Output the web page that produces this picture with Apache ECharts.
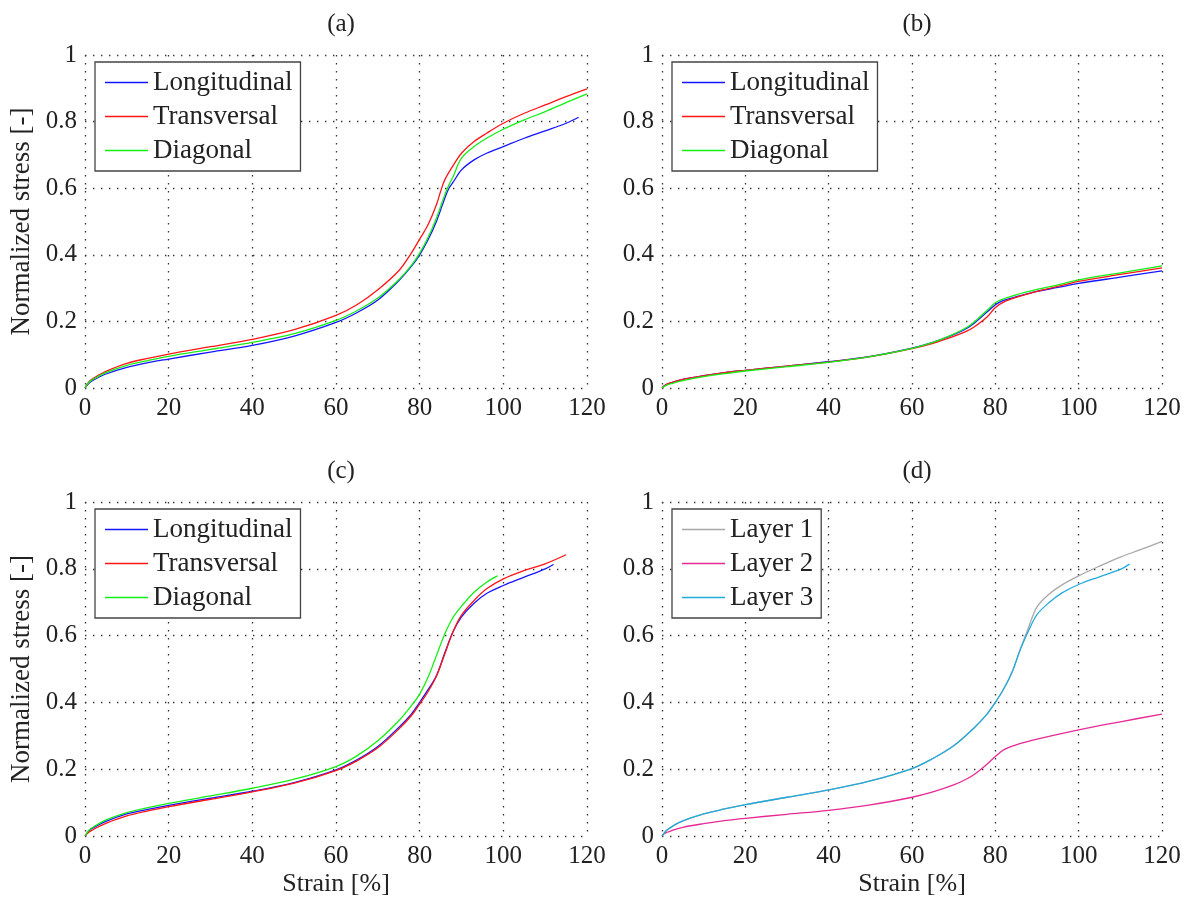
<!DOCTYPE html>
<html>
<head>
<meta charset="utf-8">
<script src="https://cdn.jsdelivr.net/npm/echarts@6/dist/echarts.min.js"></script>
<style>html,body{margin:0;padding:0;background:#fff;}#c{width:1188px;height:902px;}</style>
</head>
<body>
<div id="c"></div>
<script>
// ---- Data (strain [%], normalized stress [-]) ----
var panelTitles = ['(a)', '(b)', '(c)', '(d)'];
var xTicks = [0, 20, 40, 60, 80, 100, 120];
var yTicks = [0, 0.2, 0.4, 0.6, 0.8, 1];

// Panel (a)
var aLongX = [0,1,2.5,5,10,15,20,30,40,50,60,65,70,75,78,80,82,84,86,87,88,90,93,96,100,105,110,115,118];
var aLongY = [0,0.015,0.027,0.042,0.062,0.076,0.087,0.108,0.128,0.156,0.197,0.226,0.264,0.322,0.365,0.400,0.445,0.500,0.570,0.600,0.618,0.655,0.685,0.705,0.725,0.750,0.772,0.795,0.813];
var aTransX = [0,1,2.5,5,10,15,20,30,40,50,60,65,70,75,78,80,82,84,85,86,88,90,93,96,100,105,110,115,120];
var aTransY = [0,0.020,0.033,0.050,0.074,0.089,0.102,0.124,0.146,0.175,0.218,0.250,0.295,0.352,0.405,0.447,0.490,0.550,0.590,0.625,0.668,0.705,0.740,0.765,0.795,0.825,0.850,0.875,0.898];
var aDiagX = [0,1,2.5,5,10,15,20,30,40,50,60,65,70,75,78,80,82,84,86,87,88,90,93,96,100,105,110,115,120];
var aDiagY = [0,0.018,0.030,0.046,0.068,0.082,0.095,0.116,0.137,0.163,0.203,0.232,0.270,0.325,0.368,0.405,0.452,0.510,0.580,0.610,0.635,0.690,0.725,0.750,0.777,0.805,0.830,0.857,0.883];

// Panel (b)
var bLongX = [0,1,2.5,5,10,15,20,30,40,50,60,65,70,73,75,78,80,82,85,90,95,100,110,120];
var bLongY = [0,0.010,0.017,0.026,0.037,0.046,0.053,0.066,0.079,0.095,0.120,0.137,0.160,0.178,0.195,0.228,0.250,0.263,0.274,0.290,0.302,0.314,0.333,0.352];
var bTransX = [0,1,2.5,5,10,15,20,30,40,50,60,65,70,73,75,78,80,82,85,90,95,100,110,120];
var bTransY = [0,0.010,0.017,0.026,0.037,0.046,0.053,0.066,0.078,0.094,0.118,0.134,0.155,0.170,0.184,0.213,0.242,0.258,0.272,0.290,0.305,0.320,0.341,0.361];
var bDiagX = [0,1,2.5,5,10,15,20,30,40,50,60,65,70,73,75,78,80,82,85,90,95,100,110,120];
var bDiagY = [0,0.008,0.014,0.022,0.034,0.043,0.051,0.064,0.077,0.094,0.119,0.137,0.162,0.181,0.199,0.233,0.256,0.268,0.280,0.296,0.310,0.325,0.346,0.367];

// Panel (c)
var cLongX = [0,1,2.5,5,10,15,20,30,40,50,60,65,70,75,78,80,82,84,86,88,90,93,96,100,105,110,112];
var cLongY = [0,0.016,0.028,0.044,0.066,0.080,0.092,0.113,0.134,0.160,0.198,0.228,0.268,0.325,0.365,0.400,0.438,0.480,0.548,0.612,0.656,0.697,0.726,0.750,0.775,0.800,0.813];
var cTransX = [0,1,2.5,5,10,15,20,30,40,50,60,65,70,75,78,80,82,84,86,88,90,93,96,100,105,110,115];
var cTransY = [0,0.012,0.023,0.038,0.060,0.075,0.088,0.110,0.132,0.158,0.196,0.225,0.264,0.320,0.360,0.395,0.432,0.478,0.545,0.612,0.661,0.705,0.740,0.770,0.795,0.815,0.842];
var cDiagX = [0,1,2.5,5,10,15,20,30,40,50,60,65,70,75,78,80,82,84,86,88,90,93,96,98.6];
var cDiagY = [0,0.018,0.031,0.048,0.070,0.085,0.098,0.120,0.143,0.170,0.208,0.240,0.285,0.345,0.390,0.425,0.475,0.540,0.605,0.655,0.688,0.730,0.760,0.779];

// Panel (d)
var dL1X = [0,1,2.5,5,10,15,20,30,40,50,60,65,70,75,78,80,82,84,86,88,90,93,96,100,105,110,115,120];
var dL1Y = [0,0.016,0.029,0.045,0.066,0.081,0.094,0.116,0.138,0.165,0.202,0.232,0.270,0.325,0.365,0.400,0.440,0.490,0.560,0.625,0.686,0.725,0.752,0.779,0.808,0.835,0.858,0.882];
var dL2X = [0,0.5,1,2.5,5,10,15,20,30,40,50,60,65,70,73,75,78,80,82,85,90,100,110,120];
var dL2Y = [0,0.007,0.010,0.017,0.026,0.037,0.046,0.053,0.065,0.077,0.093,0.116,0.132,0.153,0.170,0.185,0.215,0.238,0.258,0.273,0.290,0.318,0.342,0.365];
var dL3X = [0,1,2.5,5,10,15,20,30,40,50,60,65,70,75,78,80,82,84,86,88,90,93,96,100,105,110,112.2];
var dL3Y = [0,0.016,0.029,0.045,0.066,0.081,0.094,0.116,0.138,0.165,0.202,0.232,0.270,0.325,0.365,0.400,0.440,0.490,0.558,0.615,0.663,0.700,0.728,0.753,0.776,0.798,0.814];

var names1 = ['Longitudinal', 'Transversal', 'Diagonal'];
var names2 = ['Layer 1', 'Layer 2', 'Layer 3'];

function zip(xs, ys) { return xs.map(function (x, i) { return [x, ys[i]]; }); }

var FONT = 'Liberation Serif';
var TXT = '#222';
var grids = [
  {left: 85, top: 55, width: 502, height: 333},
  {left: 662, top: 55, width: 500, height: 333},
  {left: 85, top: 502, width: 502, height: 334},
  {left: 662, top: 502, width: 500, height: 334}
];
var gridStyle = {show: true, lineStyle: {color: '#333', width: 1.3, type: [1.4, 6.6]}};

var xAxes = [], yAxes = [];
for (var i = 0; i < 4; i++) {
  xAxes.push({
    type: 'value', gridIndex: i, min: xTicks[0], max: xTicks[xTicks.length - 1], interval: 20,
    axisLine: {show: false}, axisTick: {show: false}, splitLine: gridStyle,
    axisLabel: {fontFamily: FONT, fontSize: 25, color: TXT, margin: 8},
    name: i >= 2 ? 'Strain [%]' : '', nameLocation: 'middle', nameGap: 35,
    nameTextStyle: {fontFamily: FONT, fontSize: 26, color: TXT}
  });
  yAxes.push({
    type: 'value', gridIndex: i, min: yTicks[0], max: yTicks[yTicks.length - 1], interval: 0.2,
    axisLine: {show: false}, axisTick: {show: false}, splitLine: gridStyle,
    axisLabel: {fontFamily: FONT, fontSize: 25, color: TXT, margin: 8},
    name: (i % 2 === 0) ? 'Normalized stress [-]' : '', nameLocation: 'middle', nameGap: 50, nameRotate: 90,
    nameTextStyle: {fontFamily: FONT, fontSize: 27, color: TXT}
  });
}

function line(name, idx, data, color) {
  return {
    name: name, type: 'line', xAxisIndex: idx, yAxisIndex: idx, data: data,
    symbol: 'none', smooth: 0.35, animation: false,
    lineStyle: {color: color, width: 1.3}, itemStyle: {color: color}, z: 3
  };
}

var BLUE = '#1515ff', RED = '#ff1515', GREEN = '#15ee15';
var GRAY = '#a8a8a8', MAG = '#e62a95', CYAN = '#22aadd';

var series = [
  line(names1[0], 0, zip(aLongX, aLongY), BLUE),
  line(names1[1], 0, zip(aTransX, aTransY), RED),
  line(names1[2], 0, zip(aDiagX, aDiagY), GREEN),
  line(names1[0], 1, zip(bLongX, bLongY), BLUE),
  line(names1[1], 1, zip(bTransX, bTransY), RED),
  line(names1[2], 1, zip(bDiagX, bDiagY), GREEN),
  line(names1[0], 2, zip(cLongX, cLongY), BLUE),
  line(names1[1], 2, zip(cTransX, cTransY), RED),
  line(names1[2], 2, zip(cDiagX, cDiagY), GREEN),
  line(names2[0], 3, zip(dL1X, dL1Y), GRAY),
  line(names2[1], 3, zip(dL2X, dL2Y), MAG),
  line(names2[2], 3, zip(dL3X, dL3Y), CYAN)
];

function legend(data, left, top) {
  return {
    data: data, orient: 'vertical', left: left, top: top,
    backgroundColor: '#fff', borderColor: '#444', borderWidth: 1.3,
    padding: [7, 8, 7, 10], itemWidth: 43, itemHeight: 1.6, itemGap: 7,
    icon: 'rect', selectedMode: false, z: 10,
    textStyle: {fontFamily: FONT, fontSize: 27, color: TXT, lineHeight: 27, padding: [0, 0, 0, 0]}
  };
}

var titles = panelTitles.map(function (t, i) {
  var g = grids[i];
  return {
    text: t, left: g.left + g.width / 2, top: g.top - 48, textAlign: 'center',
    textStyle: {fontFamily: FONT, fontSize: 25, fontWeight: 'normal', color: TXT}
  };
});

var chart = echarts.init(document.getElementById('c'), null, {renderer: 'canvas'});
chart.setOption({
  backgroundColor: '#fff',
  animation: false,
  title: titles,
  grid: grids,
  xAxis: xAxes,
  yAxis: yAxes,
  legend: [
    legend(names1, 95, 62),
    legend(names1, 672, 62),
    legend(names1, 95, 509),
    legend(names2, 672, 509)
  ],
  series: series
});
</script>
</body>
</html>
